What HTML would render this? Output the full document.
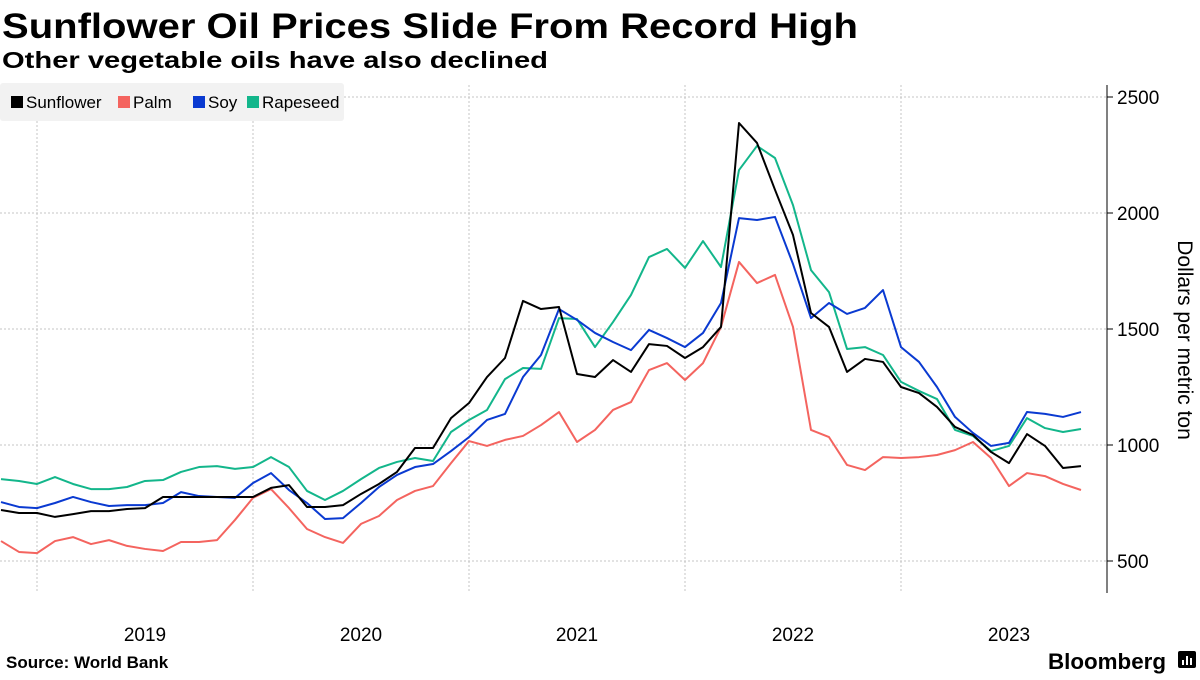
<!DOCTYPE html>
<html><head><meta charset="utf-8">
<style>
body{margin:0;background:#fff;width:1200px;height:675px;overflow:hidden;font-family:"Liberation Sans",sans-serif}
svg text{font-family:"Liberation Sans",sans-serif}
</style></head>
<body>
<svg id="chart" width="1200" height="675" viewBox="0 0 1200 675">
<text x="2" y="38" font-size="35" font-weight="bold" fill="#000" textLength="856" lengthAdjust="spacingAndGlyphs">Sunflower Oil Prices Slide From Record High</text>
<text x="2" y="68" font-size="23" font-weight="bold" fill="#000" textLength="546" lengthAdjust="spacingAndGlyphs">Other vegetable oils have also declined</text>
<g id="grid"></g>
<g id="lines"></g>
<g>
<rect x="0" y="83" width="344" height="38" fill="#f2f2f2" rx="3"/>
<rect x="11" y="96" width="12" height="12" fill="#000"/>
<text x="26" y="108" font-size="17" fill="#000">Sunflower</text>
<rect x="118" y="96" width="12" height="12" fill="#f4645f"/>
<text x="133" y="108" font-size="17" fill="#000">Palm</text>
<rect x="193" y="96" width="12" height="12" fill="#0a3ad1"/>
<text x="208" y="108" font-size="17" fill="#000">Soy</text>
<rect x="247" y="96" width="12" height="12" fill="#13b68b"/>
<text x="262" y="108" font-size="17" fill="#000">Rapeseed</text>
</g>
<g id="axes"></g>
<text transform="translate(1178,340) rotate(90)" text-anchor="middle" font-size="21" fill="#000">Dollars per metric ton</text>
<text x="6" y="668" font-size="17" font-weight="bold" fill="#000">Source: World Bank</text>
<text x="1048" y="669" font-size="22" font-weight="bold" fill="#000" textLength="118" lengthAdjust="spacingAndGlyphs">Bloomberg</text>
<g><rect x="1178" y="651" width="18" height="17" rx="2" fill="#000"/><rect x="1182" y="660" width="2" height="5" fill="#fff"/><rect x="1186" y="656" width="2" height="9" fill="#fff"/><rect x="1190" y="658" width="2" height="7" fill="#fff"/></g>
</svg>
<script>
const yTicks=[500,1000,1500,2000,2500];
const years=["2019","2020","2021","2022","2023"];
const sunflower=[720,707,707,690,702,715,715,724,728,776,776,776,776,776,776,815,827,733,733,741,789,832,884,987,987,1116,1181,1293,1375,1621,1586,1595,1306,1293,1366,1315,1435,1427,1375,1422,1509,2388,2302,2100,1905,1569,1509,1315,1371,1358,1250,1224,1164,1078,1043,970,922,1047,996,901,909];
const palm=[586,539,534,586,603,573,590,565,552,543,582,582,590,677,772,810,728,638,603,578,660,694,763,802,823,922,1017,996,1022,1039,1086,1142,1013,1065,1151,1185,1323,1353,1280,1353,1509,1789,1698,1733,1509,1065,1034,914,892,948,944,948,957,978,1013,944,823,879,866,832,806];
const soy=[754,733,728,750,776,754,737,741,741,750,797,780,776,772,836,879,806,750,681,685,750,819,871,905,918,974,1034,1108,1134,1293,1388,1586,1539,1483,1444,1409,1496,1461,1422,1483,1612,1978,1970,1983,1780,1547,1612,1565,1591,1668,1422,1358,1250,1121,1052,996,1009,1142,1134,1121,1142];
const rapeseed=[853,845,832,862,832,810,810,819,845,849,884,905,909,897,905,948,905,802,763,802,853,901,927,944,931,1056,1108,1151,1284,1332,1328,1547,1543,1422,1530,1647,1810,1845,1763,1879,1767,2185,2289,2237,2034,1754,1659,1414,1422,1388,1272,1233,1198,1065,1039,974,996,1116,1073,1056,1069];

const NS="http://www.w3.org/2000/svg";
const yScale=v=>561-(v-500)*0.232;
const xScale=i=>1+i*18; // index 0 = Nov 2018
function mk(tag,attrs,parent){const e=document.createElementNS(NS,tag);for(const k in attrs)e.setAttribute(k,attrs[k]);parent.appendChild(e);return e;}
const grid=document.getElementById('grid'),axes=document.getElementById('axes'),lines=document.getElementById('lines');
yTicks.forEach(t=>{
  const y=yScale(t);
  const g=mk('line',{x1:0,x2:1107,y1:y,y2:y,stroke:'#c4c4c4','stroke-dasharray':'2,2','stroke-width':1},grid);
  
  
  const tk=mk('line',{x1:1107,x2:1113,y1:y,y2:y,stroke:'#000'},axes);
  
  
  const tx=mk('text',{x:1117,y:y+7,'font-size':19,fill:'#000'},axes);
  tx.textContent=t;
  
  
});
years.forEach((yr,k)=>{
  const x=xScale(2+12*k);
  const g=mk('line',{x1:x,x2:x,y1:85,y2:593,stroke:'#c4c4c4','stroke-dasharray':'2,2','stroke-width':1},grid);
  
  
  const tx=mk('text',{x:x+108,y:641,'font-size':19,'text-anchor':'middle',fill:'#000'},axes);
  tx.textContent=yr;
  
  
});
const ax=mk('line',{x1:1107,x2:1107,y1:85,y2:593,stroke:'#000','stroke-width':1},axes);


[[palm,'#f4645f','line-palm'],[rapeseed,'#13b68b','line-rapeseed'],[soy,'#0a3ad1','line-soy'],[sunflower,'#000','line-sunflower']].forEach(([d,c,n])=>{
  const p=mk('polyline',{points:d.map((v,i)=>xScale(i)+','+yScale(v)).join(' '),fill:'none',stroke:c,'stroke-width':2,'stroke-linejoin':'round'},lines);
  
  
});
</script>
</body></html>
